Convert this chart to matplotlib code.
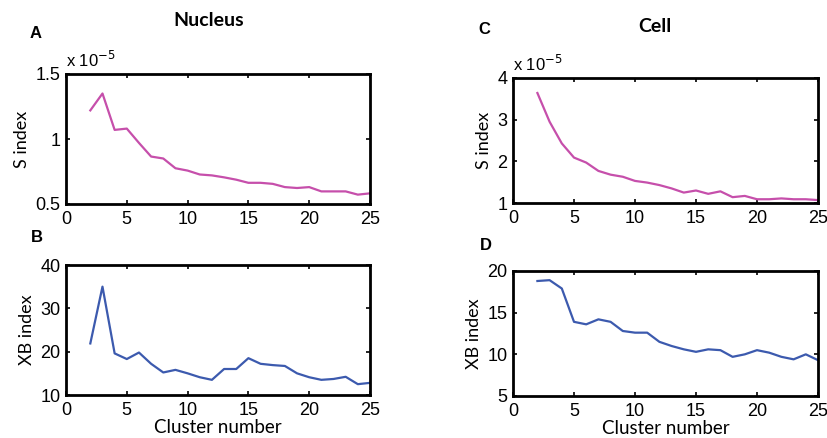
import numpy as np
import matplotlib
matplotlib.use('Agg')
import matplotlib.pyplot as plt

# cluster numbers
k = np.arange(2, 26)

# S index (x 1e-5)
s_nucleus = [1.22, 1.35, 1.07, 1.08, 0.97, 0.865, 0.85, 0.775, 0.757, 0.727, 0.72, 0.705,
             0.687, 0.663, 0.663, 0.655, 0.63, 0.623, 0.63, 0.597, 0.597, 0.597, 0.572, 0.582]
s_cell = [3.64, 2.95, 2.43, 2.09, 1.97, 1.77, 1.68, 1.63, 1.53, 1.49, 1.43, 1.35,
          1.25, 1.30, 1.22, 1.28, 1.14, 1.17, 1.09, 1.09, 1.11, 1.09, 1.09, 1.07]

# XB index
xb_nucleus = [21.9, 35.0, 19.6, 18.3, 19.8, 17.2, 15.2, 15.8, 15.0, 14.1, 13.5, 16.0,
              16.0, 18.5, 17.2, 16.9, 16.7, 15.0, 14.1, 13.5, 13.7, 14.2, 12.5, 12.8]
xb_cell = [18.8, 18.9, 17.9, 13.9, 13.6, 14.2, 13.9, 12.8, 12.6, 12.6, 11.5, 11.0,
           10.6, 10.3, 10.6, 10.5, 9.7, 10.0, 10.5, 10.2, 9.7, 9.4, 10.0, 9.3]

pink = '#c64fab'
blue = '#3c5aae'
tickfont = 'Liberation Sans'
labfont = ['Lato', 'DejaVu Sans']

W, H = 827, 438
fig = plt.figure(figsize=(W / 100, H / 100), dpi=100)


def box(l, t, r, b):
    return [l / W, 1 - b / H, (r - l) / W, (b - t) / H]


def style(ax, ylim, yticks, ylabel, xlabel=None):
    ax.set_xlim(0, 25)
    ax.set_ylim(*ylim)
    ax.set_xticks([0, 5, 10, 15, 20, 25])
    ax.set_yticks(yticks)
    ax.tick_params(direction='in', top=True, right=True, length=3, width=1.2,
                   labelsize=13)
    ax.tick_params(axis='x', pad=5)
    ax.tick_params(axis='y', pad=4)
    for lab in ax.get_xticklabels() + ax.get_yticklabels():
        lab.set_fontfamily(tickfont)
    for sp in ax.spines.values():
        sp.set_linewidth(2)
    ax.set_ylabel(ylabel, fontsize=13, family=labfont, labelpad=4)
    if xlabel:
        ax.set_xlabel(xlabel, fontsize=13.5, family=labfont, labelpad=0)


axA = fig.add_axes(box(66, 74, 370, 204))
axA.plot(k, s_nucleus, color=pink, lw=1.6)
style(axA, (0.5, 1.5), [0.5, 1, 1.5], 'S index')
axA.set_yticklabels(['0.5', '1', '1.5'], family=tickfont)

axB = fig.add_axes(box(66, 265, 370, 395))
axB.plot(k, xb_nucleus, color=blue, lw=1.6)
style(axB, (10, 40), [10, 20, 30, 40], 'XB index', 'Cluster number')

axC = fig.add_axes(box(513, 78, 818, 203))
axC.plot(k, s_cell, color=pink, lw=1.6)
style(axC, (1, 4), [1, 2, 3, 4], 'S index')

axD = fig.add_axes(box(513, 271, 818, 396))
axD.plot(k, xb_cell, color=blue, lw=1.6)
style(axD, (5, 20), [5, 10, 15, 20], 'XB index', 'Cluster number')

# exponent labels
for ax in (axA, axC):
    ax.text(0.0, 1.03, r'x 10$^{-5}$', transform=ax.transAxes, fontsize=12,
            family=tickfont, ha='left', va='bottom')

# titles and panel letters
fig.text(209 / W, 1 - 20 / H, 'Nucleus', fontsize=14, weight='bold', family=labfont,
         ha='center', va='center')
fig.text(655 / W, 1 - 27 / H, 'Cell', fontsize=14, weight='bold', family=labfont,
         ha='center', va='center')
for letter, x, y in [('A', 36, 33), ('B', 37, 238), ('C', 484, 30), ('D', 486, 246)]:
    fig.text(x / W, 1 - y / H, letter, fontsize=12, weight='bold', family=tickfont,
             ha='center', va='center')

plt.savefig('out.png', dpi=100)
